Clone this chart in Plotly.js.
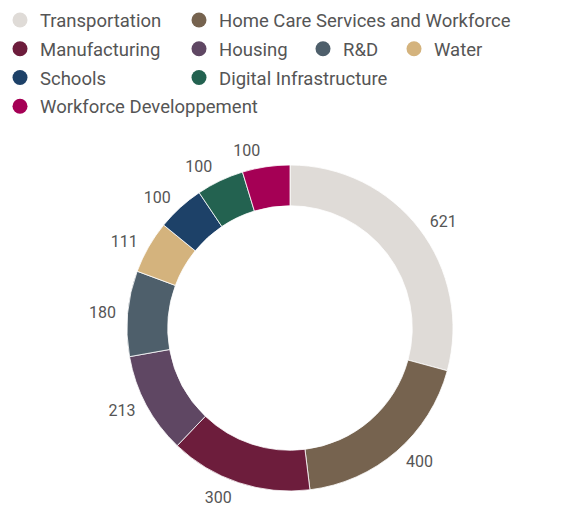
<!DOCTYPE html>
<html>
<head>
<meta charset="utf-8">
<script src="https://cdn.plot.ly/plotly-3.0.1.min.js"></script>
<style>html,body{margin:0;padding:0;background:#fff;}#chart{width:565px;height:508px;}</style>
</head>
<body>
<div id="chart"></div>
<script>
const categories = ["Transportation", "Home Care Services and Workforce", "Manufacturing", "Housing", "R&D", "Water", "Schools", "Digital Infrastructure", "Workforce Developpement"];
const values = [621, 400, 300, 213, 180, 111, 100, 100, 100];
const colors = ["#dfdbd7", "#76634f", "#6d1d3c", "#5f4763", "#4e5f6b", "#d4b37d", "#1d4168", "#236250", "#a50055"];

const W = 565, H = 508;
// donut geometry (px)
const CX = 290, CY = 328, R = 163, RL = 170;
// legend layout: text-start x px per column, centre y px per row
const colX = [38, 217, 341, 432];
const rowY = [20.5, 49.2, 78, 106.7];
const slots = [[0,0],[1,0],[0,1],[1,1],[2,1],[3,1],[0,2],[1,2],[0,3]];

const fontFam = "Roboto, 'Open Sans', sans-serif";
const textCol = "#555555";

function dom(r) {
  return {x: [(CX - r) / W, (CX + r) / W], y: [1 - (CY + r) / H, 1 - (CY - r) / H]};
}

const last = categories.length - 1;
function labelPie(showIdx) {
  // transparent ring that carries the outside value labels
  return {
    type: "pie",
    labels: categories,
    values: values,
    sort: false,
    direction: "clockwise",
    rotation: 0,
    hole: 0.97,
    marker: {colors: categories.map(() => "rgba(0,0,0,0)"), line: {width: 0}},
    textinfo: "value",
    textposition: categories.map((c, i) => showIdx(i) ? "outside" : "none"),
    textfont: {family: fontFam, size: 16, color: textCol},
    showlegend: false,
    hoverinfo: "skip",
    domain: dom(RL)
  };
}

const traces = [{
  type: "pie",
  labels: categories,
  values: values,
  sort: false,
  direction: "clockwise",
  rotation: 0,
  hole: 0.75,
  marker: {colors: colors, line: {color: "#ffffff", width: 0.8}},
  textinfo: "none",
  showlegend: false,
  hoverinfo: "label+value",
  domain: dom(R)
},
labelPie(i => i !== last),
labelPie(i => i === last)];

const layout = {
  width: W, height: H,
  margin: {l: 0, r: 0, t: 0, b: 0},
  paper_bgcolor: "#ffffff",
  plot_bgcolor: "rgba(0,0,0,0)",
  xaxis: {visible: false, range: [0, 1], fixedrange: true},
  yaxis: {visible: false, range: [0, 1], fixedrange: true},
  showlegend: true
};

categories.forEach((name, i) => {
  const key = i === 0 ? "legend" : "legend" + (i + 1);
  traces.push({
    type: "scatter", mode: "markers",
    x: [-5], y: [-5],
    name: name,
    legend: key,
    showlegend: true,
    hoverinfo: "skip",
    cliponaxis: true,
    marker: {color: colors[i], size: 15, symbol: "circle"}
  });
  const s = slots[i];
  layout[key] = {
    xref: "paper", yref: "paper",
    x: Math.max(0, colX[s[0]] - 38) / W,
    y: 1 - rowY[s[1]] / H,
    xanchor: "left", yanchor: "middle",
    bgcolor: "rgba(0,0,0,0)",
    borderwidth: 0,
    font: {family: fontFam, size: 18.5, color: textCol},
    orientation: "v"
  };
});

Plotly.newPlot("chart", traces, layout, {displayModeBar: false, staticPlot: true});
</script>
</body>
</html>
